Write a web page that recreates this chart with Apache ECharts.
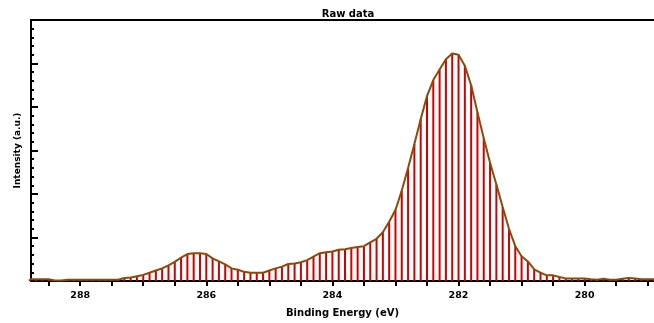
<!DOCTYPE html>
<html>
<head>
<meta charset="utf-8">
<script src="https://cdn.jsdelivr.net/npm/echarts@6/dist/echarts.min.js"></script>
<style>
html,body{margin:0;padding:0;background:#fff;}
#c{width:654px;height:323px;}
</style>
</head>
<body>
<div id="c"></div>
<script>
// Binding energies (eV), 0.1 eV step
const energies = [288.8,288.7,288.6,288.5,288.4,288.3,288.2,288.1,288.0,287.9,287.8,287.7,287.6,287.5,287.4,287.3,287.2,287.1,287.0,286.9,286.8,286.7,286.6,286.5,286.4,286.3,286.2,286.1,286.0,285.9,285.8,285.7,285.6,285.5,285.4,285.3,285.2,285.1,285.0,284.9,284.8,284.7,284.6,284.5,284.4,284.3,284.2,284.1,284.0,283.9,283.8,283.7,283.6,283.5,283.4,283.3,283.2,283.1,283.0,282.9,282.8,282.7,282.6,282.5,282.4,282.3,282.2,282.1,282.0,281.9,281.8,281.7,281.6,281.5,281.4,281.3,281.2,281.1,281.0,280.9,280.8,280.7,280.6,280.5,280.4,280.3,280.2,280.1,280.0,279.9,279.8,279.7,279.6,279.5,279.4,279.3,279.2,279.1,279.0,278.9];
// Intensity (a.u.)
const intensity = [0.04,0.04,0.04,0.04,0.01,0.01,0.03,0.03,0.03,0.03,0.03,0.03,0.03,0.03,0.03,0.07,0.08,0.11,0.14,0.19,0.24,0.29,0.36,0.44,0.54,0.62,0.64,0.64,0.62,0.52,0.45,0.38,0.29,0.26,0.21,0.19,0.19,0.19,0.24,0.29,0.33,0.39,0.40,0.43,0.48,0.56,0.64,0.66,0.68,0.72,0.73,0.76,0.78,0.80,0.89,0.97,1.12,1.36,1.63,2.08,2.60,3.15,3.72,4.25,4.62,4.86,5.10,5.23,5.20,4.95,4.50,3.88,3.28,2.72,2.22,1.70,1.20,0.80,0.57,0.45,0.27,0.19,0.13,0.13,0.09,0.06,0.06,0.06,0.06,0.04,0.03,0.05,0.03,0.03,0.05,0.07,0.06,0.04,0.04,0.04];
// Tick positions / labels
const xTicks = [279,279.5,280,280.5,281,281.5,282,282.5,283,283.5,284,284.5,285,285.5,286,286.5,287,287.5,288,288.5];
const xTickLabels = [280,282,284,286,288];

const pts = energies.map((e, i) => [e, intensity[i]]);

const chart = echarts.init(document.getElementById('c'), null, {renderer: 'canvas'});
chart.setOption({
  animation: false,
  backgroundColor: '#fff',
  title: {
    text: 'Raw data',
    left: 343, top: 4, textAlign: 'center',
    textStyle: {fontFamily: 'DejaVu Sans', fontWeight: 'bold', fontSize: 10, color: '#000'}
  },
  grid: {left: 31, right: 0, top: 20, bottom: 41, containLabel: false},
  xAxis: [{
    type: 'value', min: 278.9, max: 288.78, inverse: true,
    name: 'Binding Energy (eV)', nameLocation: 'middle', nameGap: 27,
    nameTextStyle: {fontFamily: 'DejaVu Sans', fontWeight: 'bold', fontSize: 10, color: '#000'},
    axisLine: {show: true, onZero: false, lineStyle: {color: '#000', width: 2}},
    axisTick: {show: true, inside: false, length: 5, customValues: xTicks, lineStyle: {color: '#000', width: 2}},
    axisLabel: {show: true, margin: 10, customValues: xTickLabels, fontFamily: 'DejaVu Sans', fontWeight: 'bold', fontSize: 9.5, color: '#000'},
    splitLine: {show: false}
  }, {
    type: 'value', position: 'top', min: 278.9, max: 288.78, inverse: true,
    axisLine: {show: true, onZero: false, lineStyle: {color: '#000', width: 2}},
    axisTick: {show: false}, axisLabel: {show: false}, splitLine: {show: false}
  }],
  yAxis: {
    type: 'value', min: 0, max: 6, interval: 1,
    name: 'Intensity (a.u.)', nameLocation: 'middle', nameGap: 9, nameRotate: 90,
    nameTextStyle: {fontFamily: 'DejaVu Sans', fontWeight: 'bold', fontSize: 9, color: '#000'},
    axisLine: {show: true, lineStyle: {color: '#000', width: 2}},
    axisTick: {show: true, inside: true, length: 7, lineStyle: {color: '#000', width: 2}},
    minorTick: {show: true, splitNumber: 5, length: 3, lineStyle: {color: '#000', width: 2}},
    axisLabel: {show: false},
    splitLine: {show: false}
  },
  series: [{
    type: 'bar', data: pts, barWidth: 2,
    itemStyle: {color: '#d00000'}, z: 2
  }, {
    type: 'line', data: pts, symbol: 'none', clip: true,
    lineStyle: {color: '#8a4a0a', width: 2}, z: 3
  }]
});
</script>
</body>
</html>
